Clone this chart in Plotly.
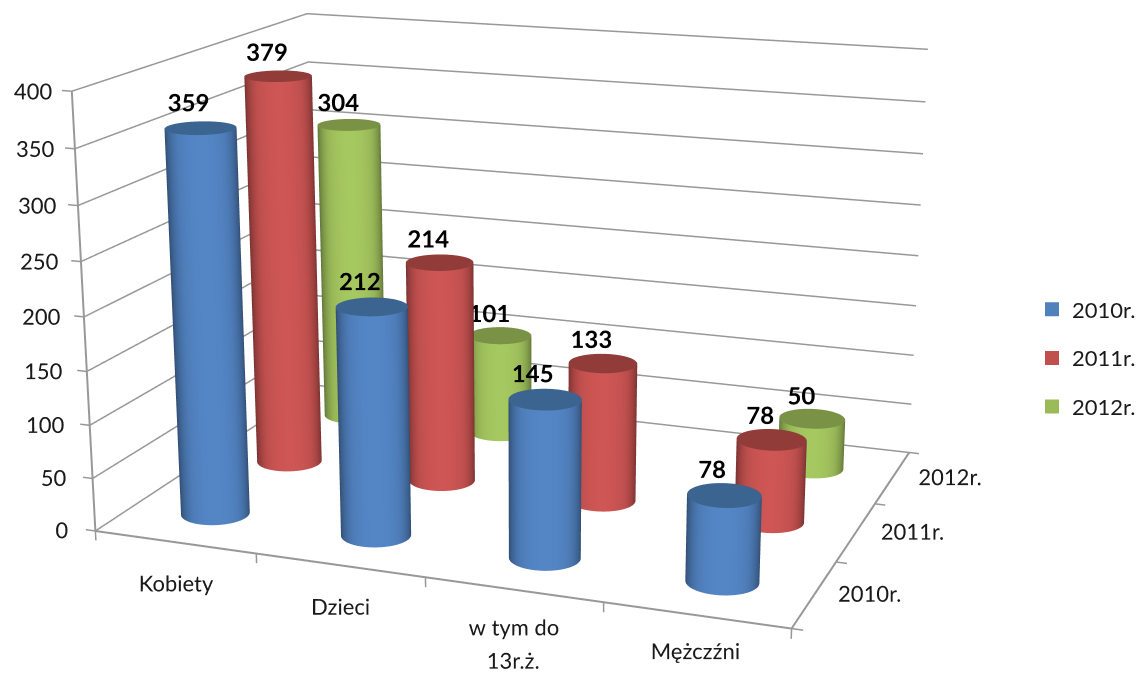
import numpy as np
import plotly.graph_objects as go

categories = ["Kobiety", "Dzieci", "w tym do<br>13r.ż.", "Mężczźni"]
series_names = ["2010r.", "2011r.", "2012r."]
v2010 = [359, 212, 145, 78]
v2011 = [379, 214, 133, 78]
v2012 = [304, 101, None, 50]
z_ticks = [0, 50, 100, 150, 200, 250, 300, 350, 400]
side_colors = {"2010r.": (84, 134, 198), "2011r.": (206, 86, 84), "2012r.": (166, 200, 96)}
cap_colors = {"2010r.": (60, 100, 145), "2011r.": (146, 60, 58), "2012r.": (122, 146, 70)}
legend_colors = {"2010r.": "#4f81bd", "2011r.": "#c0504d", "2012r.": "#9bbb59"}
GRID = "#989898"
FONT = "Lato, Open Sans, DejaVu Sans"
label_font = dict(family=FONT, size=24, color="#000000")
tick_font = dict(family=FONT, size=22, color="#1a1a1a")

# page geometry: a tall page is cropped so that the 3-D view has a narrow field of view
PAGE_H = 2000
PAGE_W = 1141
TOP_CROP = 664
SCENE_W = 1060

# base camera, fitted for the plain 0..4 / 0..3 / 0..400 box
base_eye = np.array([2.23, -5.983, 1.708])
base_cen = np.array([0.033, -0.016, -0.138])
base_asp = np.array([1.913, 1.393, 1.191])
base_span = np.array([4.0, 3.0, 400.0])
lo = np.array([-0.45, -0.5, -90.0])
hi = np.array([4.8, 3.2, 430.0])
asp = base_asp * (hi - lo) / base_span
shift = base_asp / 2 - asp / 2 - base_asp * lo / base_span
eye = base_eye + shift
cen = base_cen + shift

R = 0.196
NOLIGHT = dict(ambient=1, diffuse=0, specular=0, roughness=1, fresnel=0)
fig = go.Figure()


def rgb(c, k=1.0):
    return "rgb(%d,%d,%d)" % tuple(min(255, int(v * k)) for v in c)


def cylinder(cx, cy, h, name):
    c = side_colors[name]
    t = np.linspace(0, 2 * np.pi, 97)
    X = cx + R * np.cos(t)
    Y = cy + R * np.sin(t)
    wx = (cx / base_span[0] - 0.5) * base_asp[0]
    wy = (cy / base_span[1] - 0.5) * base_asp[1]
    phi = np.arctan2(base_eye[1] - wy, base_eye[0] - wx)
    s = np.clip(np.cos(t - phi), 0, 1)
    fig.add_trace(go.Surface(
        x=np.vstack([X, X]), y=np.vstack([Y, Y]),
        z=np.vstack([np.zeros_like(t), np.full_like(t, float(h))]),
        surfacecolor=np.vstack([s, s]), cmin=0, cmax=1, showscale=False, hoverinfo="skip",
        colorscale=[[0, rgb(c, 0.52)], [0.4, rgb(c, 0.72)], [0.75, rgb(c, 0.92)], [1, rgb(c, 1.0)]],
        lighting=NOLIGHT))
    rr = np.array([0, R])
    xc = cx + np.outer(rr, np.cos(t))
    yc = cy + np.outer(rr, np.sin(t))
    cap = rgb(cap_colors[name])
    fig.add_trace(go.Surface(x=xc, y=yc, z=np.full_like(xc, float(h)), surfacecolor=np.zeros_like(xc),
                             cmin=0, cmax=1, colorscale=[[0, cap], [1, cap]], showscale=False,
                             hoverinfo="skip", lighting=NOLIGHT))


def lines(xs, ys, zs, width=3):
    fig.add_trace(go.Scatter3d(x=xs, y=ys, z=zs, mode="lines", line=dict(color=GRID, width=width),
                               showlegend=False, hoverinfo="skip"))


def texts(xs, ys, zs, labels, font, position="middle center"):
    fig.add_trace(go.Scatter3d(x=xs, y=ys, z=zs, mode="text", text=labels, textfont=font,
                               textposition=position, showlegend=False, hoverinfo="skip"))


n_cat = len(categories)
n_ser = len(series_names)

# wall gridlines
gx, gy, gz = [], [], []
for z in z_ticks:
    gx += [0, 0, n_cat, None]
    gy += [0, n_ser, n_ser, None]
    gz += [z, z, z, None]
lines(gx, gy, gz)

# floor edges, left edge and tick marks
lines([0, n_cat, n_cat], [0, 0, n_ser], [0, 0, 0], width=4)
lines([0, 0], [0, 0], [0, 400], width=4)
tx, ty, tz = [], [], []
for i in range(n_cat + 1):
    tx += [i, i, None]; ty += [0, 0, None]; tz += [0, -9, None]
for j in range(n_ser + 1):
    tx += [n_cat, n_cat + 0.06, None]; ty += [j, j, None]; tz += [0, 0, None]
for z in z_ticks:
    tx += [0, -0.06, None]; ty += [0, 0, None]; tz += [z, z, None]
lines(tx, ty, tz)

# cylinders and value labels
for j, (name, vals) in enumerate(zip(series_names, [v2010, v2011, v2012])):
    for i, h in enumerate(vals):
        if h is None:
            continue
        cylinder(i + 0.5, j + 0.5, h, name)
        texts([i + 0.43], [j + 0.5], [h + 22], ["<b>%d</b>" % h], label_font)

# axis labels
texts([-0.0375 + 0.00012 * z for z in z_ticks], [0] * len(z_ticks), z_ticks, [str(z) for z in z_ticks],
      tick_font, "middle left")
for i, cat in enumerate(categories):
    for k, part in enumerate(cat.split("<br>")):
        texts([i + 0.5], [0], [-41 + 2.5 * i - 29 * k], [part], tick_font)
texts([n_cat + 0.29 + 0.025 * j for j in range(n_ser)], [j + 0.5 for j in range(n_ser)], [7] * n_ser,
      series_names, tick_font)

# legend entries
for name in series_names:
    fig.add_trace(go.Scatter(x=[None], y=[None], mode="markers", name=name, legendgroup=name,
                             marker=dict(symbol="square", size=14, color=legend_colors[name])))

hidden = dict(visible=False, showspikes=False)
fig.update_layout(
    width=PAGE_W, height=PAGE_H, margin=dict(l=0, r=0, t=0, b=0), paper_bgcolor="white",
    plot_bgcolor="rgba(0,0,0,0)", xaxis=dict(visible=False), yaxis=dict(visible=False),
    legend=dict(x=1032 / PAGE_W, y=1 - (358 + TOP_CROP) / PAGE_H, xanchor="left", yanchor="middle",
                font=tick_font, tracegroupgap=17, bgcolor="rgba(0,0,0,0)"),
    scene=dict(
        domain=dict(x=[0, SCENE_W / PAGE_W], y=[0, 1]),
        xaxis=dict(range=[lo[0], hi[0]], **hidden),
        yaxis=dict(range=[lo[1], hi[1]], **hidden),
        zaxis=dict(range=[lo[2], hi[2]], **hidden),
        aspectmode="manual", aspectratio=dict(x=asp[0], y=asp[1], z=asp[2]),
        camera=dict(eye=dict(x=eye[0], y=eye[1], z=eye[2]), center=dict(x=cen[0], y=cen[1], z=cen[2]),
                    up=dict(x=0, y=0, z=1), projection=dict(type="perspective")),
    ),
)
post = ("document.documentElement.style.overflow='hidden';document.body.style.overflow='hidden';"
        "document.body.style.margin='0';document.getElementById('{plot_id}').style.marginTop='-%dpx';" % TOP_CROP)
fig.write_html("out.html", post_script=post)
